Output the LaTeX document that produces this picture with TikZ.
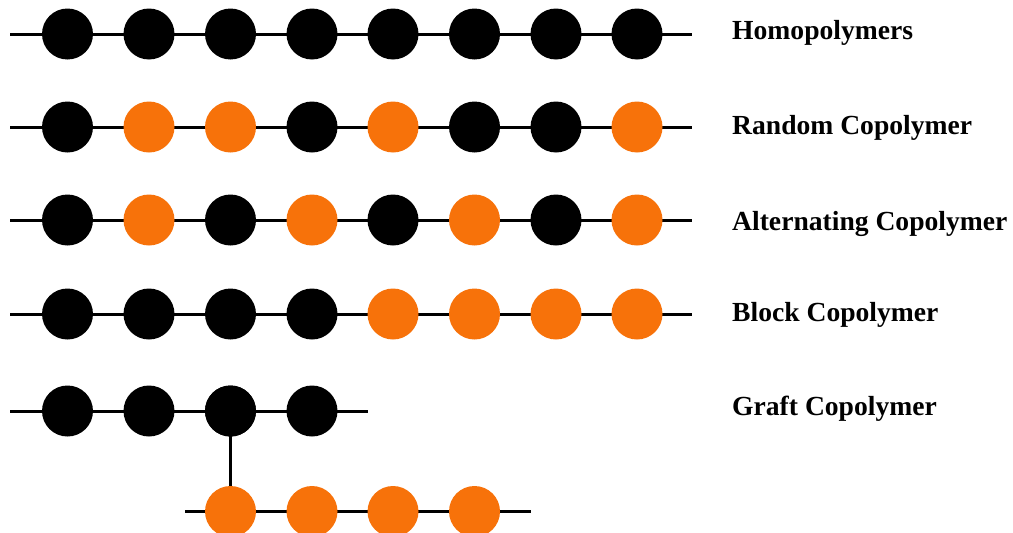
\documentclass[tikz,border=0pt]{standalone}
\usepackage{fontspec}
\setmainfont{Liberation Serif}
\definecolor{mono}{RGB}{247,114,10}
\begin{document}
\begin{tikzpicture}[x=1pt,y=-1pt,
  bead/.style={circle,fill=#1,minimum size=51pt,inner sep=0pt},
  bond/.style={line width=3pt,black},
  lbl/.style={anchor=base west,font=\bfseries\fontsize{27.6}{30}\selectfont,inner sep=0pt}]
\useasboundingbox (0,0) rectangle (1013,533);
% x positions
\def\xs{{67.5,149,230.5,312,393,474.5,556,637}}
% rows: name, y, colours, label baseline, label
\foreach \r/\y/\cols/\by/\txt in {
  h/34/{black,black,black,black,black,black,black,black}/39.3/Homopolymers,
  r/127/{black,mono,mono,black,mono,black,black,mono}/134.3/Random Copolymer,
  a/220/{black,mono,black,mono,black,mono,black,mono}/230.7/Alternating Copolymer,
  b/314/{black,black,black,black,mono,mono,mono,mono}/321.7/Block Copolymer}{
  \coordinate (\r s) at (10,\y);
  \coordinate (\r e) at (692,\y);
  \draw[bond] (\r s) -- (\r e);
  \foreach \c [count=\i from 0] in \cols {
    \pgfmathsetmacro\xx{\xs[\i]}
    \node[bead=\c] (\r\i) at (\xx,\y) {};
  }
  \node[lbl] (\r l) at (732,\by) {\txt};
}
% graft copolymer
\coordinate (gs) at (10,411);
\coordinate (ge) at (368,411);
\draw[bond] (gs) -- (ge);
\foreach \i in {0,...,3}{
  \pgfmathsetmacro\xx{\xs[\i]}
  \node[bead=black] (g\i) at (\xx,411) {};
}
\coordinate (ss) at (185,511.5);
\coordinate (se) at (531,511.5);
\draw[bond] (ss) -- (se);
\foreach \i in {2,...,5}{
  \pgfmathsetmacro\xx{\xs[\i]}
  \node[bead=mono] (s\i) at (\xx,511.5) {};
}
\draw[line width=2.5pt] (g2.center) -- (s2.north);
\node[bead=black] at (g2) {};
\node[lbl] (gl) at (732,415.7) {Graft Copolymer};
\end{tikzpicture}
\end{document}
